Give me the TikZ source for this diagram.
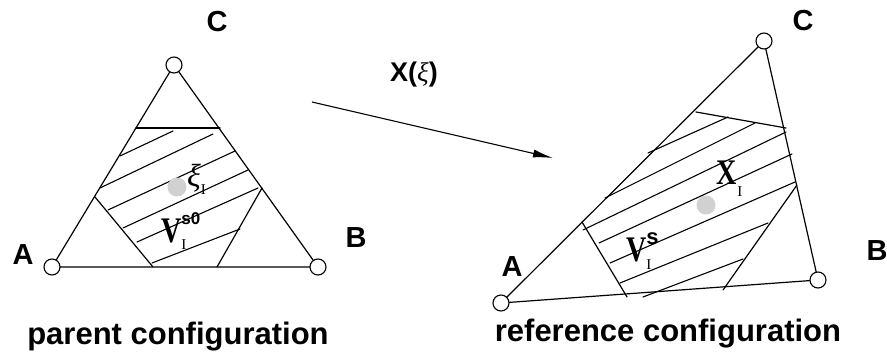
\documentclass[tikz,border=0pt]{standalone}
\usepackage{fontspec}
\setmainfont{Liberation Sans}
\newfontfamily\serifI{Liberation Serif}
\usetikzlibrary{arrows.meta}
\newcommand{\bigletter}[1]{\scalebox{0.78}[1]{\fontsize{36}{36}\selectfont\serifI\bfseries #1}}
\newcommand{\subI}{{\fontsize{15}{15}\selectfont\serifI I}}
\begin{document}
\begin{tikzpicture}[x=1pt,y=-1pt,
  edge/.style={line width=1.2pt,line cap=round},
  hatch/.style={line width=1.1pt,line cap=round},
  vert/.style={circle,draw,line width=1.1pt,fill=white,minimum size=16pt,inner sep=0pt},
  lbl/.style={inner sep=0pt,font=\fontsize{29}{29}\selectfont\bfseries},
  captext/.style={inner sep=0pt,anchor=base,font=\fontsize{31}{31}\selectfont\bfseries},
  gdot/.style={circle,fill=black!18,minimum size=19pt,inner sep=0pt},
  sym/.style={inner sep=0pt,anchor=base west}]
\useasboundingbox (0,0) rectangle (887,355);

% ---------- left (parent) triangle ----------
\coordinate (A1) at (52,267);
\coordinate (B1) at (318,267);
\coordinate (C1) at (174,65);
% region boundaries
\draw[edge] (136,128) -- (220,128);
\draw[edge] (95,197) -- (153,267);
\draw[edge] (217,267) -- (262,188);
% hatch lines
\draw[hatch] (120,156) -- (173,131);
\draw[hatch] (100,188) -- (213,134);
\draw[hatch] (108,210) -- (235,151);
\draw[hatch] (123,228) -- (248,170);
\draw[hatch] (137,242) -- (258,188);
\draw[hatch] (152,263) -- (240,229);
\node[gdot] (p1) at (177,187) {};
% triangle
\draw[edge] (A1) -- (B1) -- (C1) -- cycle;
\node[vert] (a1) at (A1) {};
\node[vert] (b1) at (B1) {};
\node[vert] (c1) at (C1) {};
\node[lbl] (la1) at (23,255) {A};
\node[lbl] (lb1) at (356,238) {B};
\node[lbl] (lc1) at (217,22) {C};
\node[sym] (xi) at (187,187) {{\fontsize{32}{32}\selectfont\serifI\itshape ξ}\raisebox{-8pt}{\subI}};
\node[sym] (v1) at (161,243) {\bigletter{V}\rlap{\raisebox{18pt}{\fontsize{17}{17}\selectfont\bfseries s0}}\raisebox{-7pt}{\subI}};
\node[captext] (t1) at (178,345) {parent configuration};

% ---------- mapping arrow ----------
\coordinate (m1) at (312,102);
\coordinate (m2) at (553,158);
\draw[line width=1.1pt,-{Latex[length=20pt,width=8pt]}] (m1) -- (m2);
\node[inner sep=0pt] (map) at (414,75) {\fontsize{27}{27}\selectfont\bfseries X({\mdseries\serifI\itshape ξ})};

% ---------- right (reference) triangle ----------
\coordinate (A2) at (501,303);
\coordinate (B2) at (818,280);
\coordinate (C2) at (764,41);
% region boundaries
\draw[edge] (696,112) -- (786,128);
\draw[edge] (582,222) -- (627,297);
\draw[edge] (797,185) -- (723,290);
% hatch lines
\draw[hatch] (648,153) -- (728,117);
\draw[hatch] (605,198) -- (755,123);
\draw[hatch] (583,230) -- (786,132);
\draw[hatch] (599,243) -- (792,154);
\draw[hatch] (610,263) -- (795,182);
\draw[hatch] (620,283) -- (768,223);
\draw[hatch] (643,297) -- (743,259);
\node[gdot] (p2) at (706,205) {};
% triangle
\draw[edge] (A2) -- (B2) -- (C2) -- cycle;
\node[vert] (a2) at (A2) {};
\node[vert] (b2) at (B2) {};
\node[vert] (c2) at (C2) {};
\node[lbl] (la2) at (512,267) {A};
\node[lbl] (lb2) at (877,251) {B};
\node[lbl] (lc2) at (803,21) {C};
\node[sym] (xl) at (716,185) {\bigletter{X}\hspace{1pt}\raisebox{-12pt}{\subI}};
\node[sym] (v2) at (626,262) {\bigletter{V}\rlap{\raisebox{17pt}{\fontsize{22}{22}\selectfont\bfseries s}}\raisebox{-8pt}{\subI}};
\node[captext] (t2) at (668,342) {reference configuration};
\end{tikzpicture}
\end{document}
